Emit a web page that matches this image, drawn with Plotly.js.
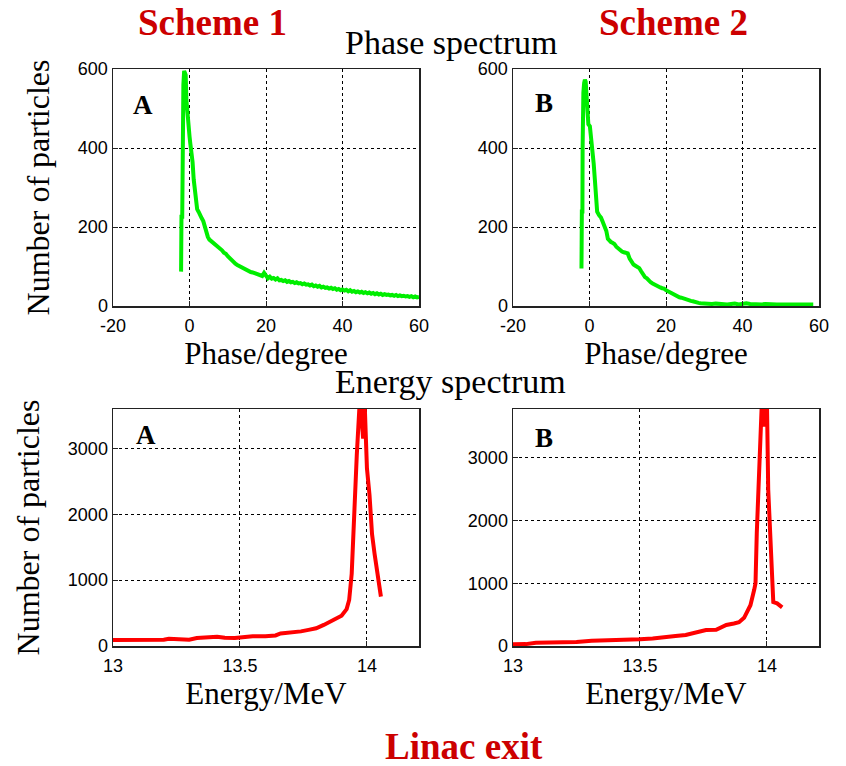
<!DOCTYPE html>
<html>
<head>
<meta charset="utf-8">
<script src="https://cdn.plot.ly/plotly-3.0.1.min.js"></script>
<style>
  html, body { margin: 0; padding: 0; background: #fff; }
  #chart { width: 846px; height: 766px; }
</style>
</head>
<body>
<div id="chart"></div>
<script>
// Phase spectrum at the linac exit, scheme 1 (panel A)
const phaseA_x = [-2.2, -2.2, -2.1, -1.9, -1.85, -1.8, -1.6, -1.4, -1.2, -1.0, -0.8, -0.6, -0.4, -0.2, 0.0, 0.2, 0.5, 0.8, 1.1, 1.4, 1.7, 2.0, 2.4, 2.8, 3.2, 3.6, 4.0, 4.4, 4.8, 5.2, 5.6, 6.0, 6.5, 7.0, 7.5, 8.0, 8.5, 9.0, 9.5, 10.0, 10.5, 11.0, 11.5, 12.0, 12.5, 13.0, 13.5, 14.0, 14.5, 15.0, 15.5, 16.0, 16.5, 17.0, 17.5, 18.0, 18.5, 19.0, 19.5, 20.0, 20.5, 21.0, 21.5, 22.0, 22.5, 23.0, 23.5, 24.0, 24.5, 25.0, 25.5, 26.0, 26.5, 27.0, 27.5, 28.0, 28.5, 29.0, 29.5, 30.0, 30.5, 31.0, 31.5, 32.0, 32.5, 33.0, 33.5, 34.0, 34.5, 35.0, 35.5, 36.0, 36.5, 37.0, 37.5, 38.0, 38.5, 39.0, 39.5, 40.0, 40.5, 41.0, 41.5, 42.0, 42.5, 43.0, 43.5, 44.0, 44.5, 45.0, 45.5, 46.0, 46.5, 47.0, 47.5, 48.0, 48.5, 49.0, 49.5, 50.0, 50.5, 51.0, 51.5, 52.0, 52.5, 53.0, 53.5, 54.0, 54.5, 55.0, 55.5, 56.0, 56.5, 57.0, 57.5, 58.0, 58.5, 59.0, 59.5, 60.0];
const phaseA_y = [87, 160, 226, 226, 380, 476, 560, 595, 590, 585, 520, 490, 470, 455, 430, 412, 390, 365, 320, 290, 255, 245, 238, 232, 222, 215, 200, 188, 175, 168, 165, 162, 158, 155, 150, 146, 141, 135, 132, 126, 121, 114, 110, 107, 104, 101, 98, 96, 93, 91, 89, 86, 85, 83, 81, 80, 79, 76, 84, 77, 70, 74, 69, 71, 67, 70, 65, 66, 63, 65, 61, 63, 60, 61, 58, 60, 57, 58, 55, 57, 54, 55, 52, 54, 50, 52, 49, 51, 47, 49, 46, 47, 44, 46, 43, 45, 41, 43, 40, 42, 39, 41, 37, 40, 36, 38, 35, 37, 34, 36, 33, 35, 32, 34, 31, 33, 30, 32, 29, 31, 28, 30, 28, 29, 27, 28, 26, 28, 25, 27, 25, 26, 24, 25, 23, 25, 22, 24, 22, 23, 21];

// Phase spectrum, scheme 2 (panel B)
const phaseB_x = [-2.1, -2.1, -2.0, -1.85, -1.8, -1.75, -1.6, -1.4, -1.2, -1.0, -0.8, -0.6, -0.3, 0.1, 0.5, 0.8, 1.1, 1.4, 1.7, 2.0, 2.5, 3.0, 3.5, 4.0, 4.4, 4.8, 5.2, 5.6, 6.0, 6.5, 7.0, 7.5, 8.0, 8.5, 9.0, 9.5, 10.0, 10.5, 11.0, 11.5, 12.0, 12.5, 13.0, 13.5, 14.0, 14.5, 15.0, 15.5, 16.0, 16.5, 17.0, 17.5, 18.0, 18.5, 19.0, 19.5, 20.0, 20.5, 21.0, 21.5, 22.0, 22.5, 23.0, 23.5, 24.0, 24.5, 25.0, 25.5, 26.0, 26.5, 27.0, 27.5, 28.0, 28.5, 29.0, 30.0, 31.0, 32.0, 33.0, 34.0, 35.0, 36.0, 37.0, 38.0, 39.0, 40.0, 41.0, 42.0, 43.0, 44.0, 45.0, 46.0, 47.0, 48.0, 49.0, 50.0, 51.0, 52.0, 53.0, 54.0, 55.0, 56.0, 57.0, 58.0, 58.5];
const phaseB_y = [95, 170, 239, 239, 400, 476, 540, 565, 573, 568, 520, 480, 460, 455, 420, 400, 360, 320, 260, 239, 230, 224, 212, 200, 190, 170, 165, 162, 160, 157, 150, 145, 142, 138, 136, 135, 133, 120, 110, 105, 102, 99, 96, 88, 80, 73, 70, 64, 60, 57, 54, 52, 50, 47, 45, 44, 40, 37, 34, 32, 29, 26, 24, 22, 21, 19, 17, 16, 14, 13, 12, 10, 9, 8, 7, 6, 7, 5, 6, 5, 6, 4, 5, 6, 4, 5, 7, 5, 4, 5, 4, 5, 4, 5, 4, 4, 5, 4, 4, 5, 4, 4, 5, 6, 4];

// Energy spectrum, scheme 1 (panel A)
const energyA_x = [13.00, 13.05, 13.10, 13.15, 13.20, 13.22, 13.27, 13.30, 13.33, 13.38, 13.41, 13.44, 13.48, 13.51, 13.55, 13.60, 13.64, 13.66, 13.70, 13.74, 13.77, 13.80, 13.83, 13.86, 13.88, 13.90, 13.92, 13.93, 13.94, 13.95, 13.96, 13.97, 13.975, 13.98, 13.985, 13.99, 13.995, 14.00, 14.01, 14.02, 14.03, 14.04, 14.055];
const energyA_y = [90, 90, 90, 92, 95, 110, 108, 95, 120, 128, 142, 125, 120, 132, 148, 150, 160, 190, 200, 222, 245, 270, 320, 380, 420, 460, 560, 700, 1100, 2100, 2900, 3600, 3900, 3400, 3150, 3800, 3300, 2700, 2300, 1700, 1400, 1100, 750];

// Energy spectrum, scheme 2 (panel B)
const energyB_x = [13.00, 13.05, 13.09, 13.15, 13.20, 13.25, 13.31, 13.40, 13.50, 13.55, 13.58, 13.62, 13.64, 13.68, 13.71, 13.74, 13.76, 13.80, 13.82, 13.84, 13.87, 13.89, 13.91, 13.92, 13.935, 13.95, 13.955, 13.96, 13.97, 13.98, 13.99, 14.00, 14.005, 14.015, 14.02, 14.025, 14.04, 14.06];
const energyB_y = [27, 30, 53, 55, 60, 65, 85, 90, 106, 120, 138, 150, 160, 175, 202, 230, 255, 258, 300, 335, 360, 380, 450, 520, 650, 900, 1000, 1800, 2900, 3900, 3500, 3900, 2500, 1500, 1000, 700, 680, 616];

const phaseTicks = [-20, 0, 20, 40, 60];
const phaseTickText = ['-20', '0', '20', '40', '60'];
const energyTicks = [13, 13.5, 14];
const energyTickText = ['13', '13.5', '14'];
const phaseCountTicks = [0, 200, 400, 600];
const energyCountTicks = [0, 1000, 2000, 3000];

const serif = 'Liberation Serif, Times New Roman, serif';
const tickFont = { family: 'Liberation Sans, Arial, sans-serif', size: 18, color: '#000' };
const xTitleFont = { family: serif, size: 31, color: '#000' };
const yTitleFont = { family: serif, size: 32, color: '#000' };
const RED = '#cc0000';

function axisBase() {
  return {
    showline: true, linecolor: '#222', linewidth: 1.5, mirror: true,
    ticks: 'inside', ticklen: 5, tickcolor: '#222', tickwidth: 1,
    showgrid: true, gridcolor: '#000', griddash: '3px,3px', gridwidth: 1,
    zeroline: false, tickfont: tickFont, fixedrange: true
  };
}

const traces = [
  { x: phaseA_x, y: phaseA_y, xaxis: 'x', yaxis: 'y', type: 'scatter', mode: 'lines',
    line: { color: '#00ee00', width: 4 } },
  { x: phaseB_x, y: phaseB_y, xaxis: 'x2', yaxis: 'y2', type: 'scatter', mode: 'lines',
    line: { color: '#00ee00', width: 4 } },
  { x: energyA_x, y: energyA_y, xaxis: 'x3', yaxis: 'y3', type: 'scatter', mode: 'lines',
    line: { color: '#ff0000', width: 4 } },
  { x: energyB_x, y: energyB_y, xaxis: 'x4', yaxis: 'y4', type: 'scatter', mode: 'lines',
    line: { color: '#ff0000', width: 4 } }
];

const W = 846, H = 766;
const colL = [113 / W, 419 / W];
const colR = [513 / W, 819 / W];
const rowTop = [1 - 306 / H, 1 - 69 / H];
const rowBot = [1 - 646 / H, 1 - 409 / H];

function xPhase(domain, anchor) {
  return Object.assign(axisBase(), {
    domain: domain, anchor: anchor, range: [-20, 60], tickvals: phaseTicks, ticktext: phaseTickText,
    ticklabelstandoff: 3,
    title: { text: 'Phase/degree', font: xTitleFont, standoff: 6 }
  });
}
function xEnergy(domain, anchor) {
  return Object.assign(axisBase(), {
    domain: domain, anchor: anchor, range: [13, 14.205], tickvals: energyTicks, ticktext: energyTickText,
    ticklabelstandoff: 3,
    title: { text: 'Energy/MeV', font: xTitleFont, standoff: 6 }
  });
}
function yAxis(domain, anchor, range, ticks, withTitle) {
  const a = Object.assign(axisBase(), { domain: domain, anchor: anchor, range: range, tickvals: ticks });
  if (withTitle) a.title = { text: 'Number of particles', font: yTitleFont, standoff: 18 };
  return a;
}

const panelLabel = (text, xref, yref, x, y) => ({
  text: text, xref: xref + ' domain', yref: yref + ' domain', x: x, y: y,
  xanchor: 'left', yanchor: 'top', showarrow: false,
  font: { family: serif, size: 27, color: '#000', weight: 'bold' }
});

const layout = {
  width: W, height: H,
  margin: { l: 0, r: 0, t: 0, b: 0 },
  paper_bgcolor: '#fff', plot_bgcolor: '#fff',
  showlegend: false,
  xaxis: xPhase(colL, 'y'),
  yaxis: yAxis(rowTop, 'x', [0, 600], phaseCountTicks, true),
  xaxis2: xPhase(colR, 'y2'),
  yaxis2: yAxis(rowTop, 'x2', [0, 600], phaseCountTicks, false),
  xaxis3: xEnergy(colL, 'y3'),
  yaxis3: yAxis(rowBot, 'x3', [0, 3600], energyCountTicks, true),
  xaxis4: xEnergy(colR, 'y4'),
  yaxis4: yAxis(rowBot, 'x4', [0, 3780], energyCountTicks, false),
  annotations: [
    { text: 'Scheme 1', xref: 'paper', yref: 'paper', x: 213 / W, y: 1 - 23 / H,
      xanchor: 'center', yanchor: 'middle', showarrow: false,
      font: { family: serif, size: 37, color: RED, weight: 'bold' } },
    { text: 'Scheme 2', xref: 'paper', yref: 'paper', x: 673 / W, y: 1 - 23 / H,
      xanchor: 'center', yanchor: 'middle', showarrow: false,
      font: { family: serif, size: 37, color: RED, weight: 'bold' } },
    { text: 'Phase spectrum', xref: 'paper', yref: 'paper', x: 451 / W, y: 1 - 42 / H,
      xanchor: 'center', yanchor: 'middle', showarrow: false,
      font: { family: serif, size: 34, color: '#000' } },
    { text: 'Energy spectrum', xref: 'paper', yref: 'paper', x: 450 / W, y: 1 - 382 / H,
      xanchor: 'center', yanchor: 'middle', showarrow: false,
      font: { family: serif, size: 34, color: '#000' } },
    { text: 'Linac exit', xref: 'paper', yref: 'paper', x: 464 / W, y: 1 - 746 / H,
      xanchor: 'center', yanchor: 'middle', showarrow: false,
      font: { family: serif, size: 37, color: RED, weight: 'bold' } },
    panelLabel('A', 'x', 'y', 0.06, 0.92),
    panelLabel('B', 'x2', 'y2', 0.065, 0.93),
    panelLabel('A', 'x3', 'y3', 0.07, 0.96),
    panelLabel('B', 'x4', 'y4', 0.065, 0.95)
  ]
};

Plotly.newPlot('chart', traces, layout, { staticPlot: true, displayModeBar: false });
</script>
</body>
</html>
